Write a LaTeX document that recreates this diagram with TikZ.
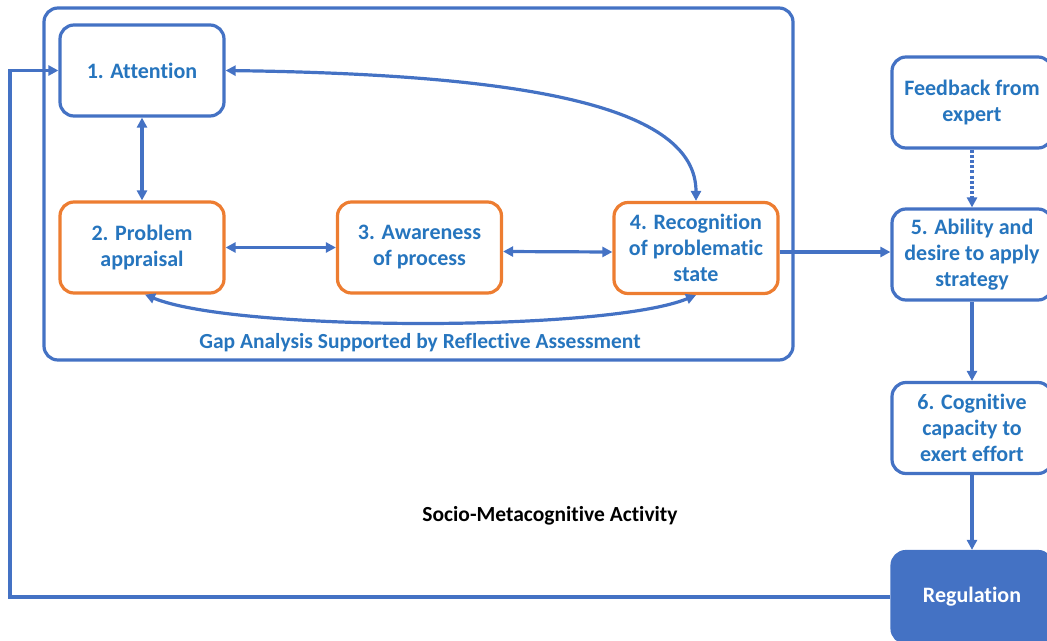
\documentclass[tikz,border=0pt]{standalone}
\usepackage{fontspec}
\setmainfont{Carlito}[Ligatures=NoCommon]
\usetikzlibrary{arrows.meta,calc}
\definecolor{lineblue}{RGB}{68,114,196}
\definecolor{textblue}{RGB}{38,117,190}
\definecolor{orng}{RGB}{237,125,49}
\begin{document}
\begin{tikzpicture}[x=1pt,y=-1pt,
  box/.style={draw=lineblue, line width=3.2pt, rounded corners=14pt, fill=white,
    minimum width=164pt, minimum height=91pt, align=center, text=textblue,
    font=\fontsize{22}{26}\selectfont\bfseries, inner sep=2pt},
  obox/.style={box, draw=orng},
  conn/.style={draw=lineblue, line width=3.2pt},
  tip/.style={-{Triangle[length=10pt,width=10pt]}},
  dtip/.style={{Triangle[length=10pt,width=10pt]}-{Triangle[length=10pt,width=10pt]}}
]
\useasboundingbox (0,0) rectangle (1047,640);
\begin{scope}
\clip (0,0) rectangle (1047,640);
% outer frame
\draw[lineblue, line width=3.2pt, rounded corners=14pt] (44,8) rectangle (793,360);
\node[text=textblue, font=\fontsize{21.5}{26}\selectfont\bfseries] (gap) at (420,343) {Gap Analysis Supported by Reflective Assessment};
\node[font=\fontsize{21.5}{26}\selectfont\bfseries] (soc) at (550,516) {Socio-Metacognitive Activity};

\node[box] (att) at (142,70.5) {1. Attention};
\node[obox] (pa) at (142,247.5) {2. Problem\\appraisal};
\node[obox] (aw) at (419.5,247.5) {3. Awareness\\of process};
\node[obox] (rec) at (696,248) {4. Recognition\\of problematic\\state};
\node[box, minimum width=160pt] (fb) at (972,102.5) {Feedback from\\expert};
\node[box, minimum width=160pt] (ab) at (972,254.5) {5. Ability and\\desire to apply\\strategy};
\node[box, minimum width=160pt] (cog) at (972,428) {6. Cognitive\\capacity to\\exert effort};
\node[box, minimum width=160pt, fill=lineblue, text=white] (reg) at (972,597) {Regulation};

% connectors
\draw[conn, dtip] (att.south) -- (pa.north);
\draw[conn, dtip] (pa.east) -- (aw.west);
\draw[conn, dtip] ([yshift=-4pt]aw.east) -- ([yshift=-4pt]rec.west);
\draw[conn, dtip] (att.east) .. controls +(300,4) and +(0,-95) .. (rec.north);
\draw[conn, dtip] ([xshift=3pt]pa.south) .. controls +(90,37) and +(-90,37) .. (rec.south);
\draw[conn, tip] ([yshift=-4pt]rec.east) -- ([yshift=2.5pt]ab.west);
\draw[conn, tip, dash pattern=on 3pt off 2.2pt] (fb.south) -- (ab.north);
\draw[conn, tip] (ab.south) -- (cog.north);
\draw[conn, tip] (cog.south) -- (reg.north);
\coordinate (lc) at (10,597);
\draw[conn, tip] (reg.west) -- (lc) |- (att.west);
\end{scope}
\end{tikzpicture}
\end{document}
